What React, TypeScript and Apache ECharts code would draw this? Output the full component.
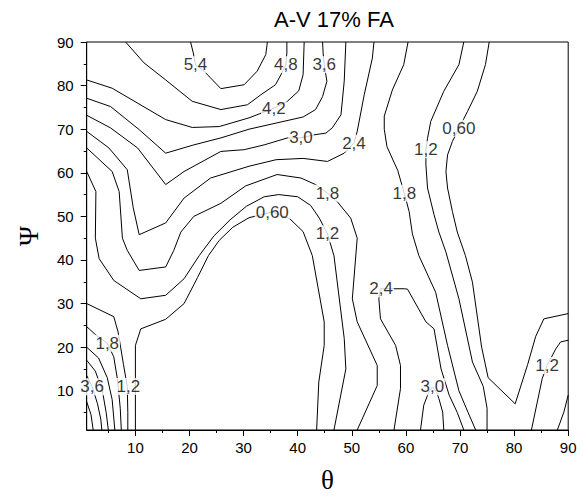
import React, { useEffect, useRef } from "react";
import * as echarts from "echarts";

// ---- axis ticks ----
const THETA_MAJOR = [10, 20, 30, 40, 50, 60, 70, 80, 90];
const THETA_MINOR = [5, 15, 25, 35, 45, 55, 65, 75, 85];
const PSI_MAJOR = [10, 20, 30, 40, 50, 60, 70, 80, 90];
const PSI_MINOR = [5, 15, 25, 35, 45, 55, 65, 75, 85];

// ---- contour lines: [theta, psi] ----
const level54 = [[20.2, 90], [20.7, 87.5], [21.1, 84.8], [22.7, 83.3], [25.8, 79.3], [30.1, 80.2], [32.5, 83.3], [34.1, 87.1], [34.4, 90]];
const level48 = [[8.2, 90], [11.6, 85.2], [15.6, 81.3], [20.5, 76.4], [25.8, 74.5], [30.7, 75.6], [33.2, 77.9], [35.9, 80.2], [36.9, 82.5], [37.8, 84.8], [38, 87.5], [38, 90]];
const level42 = [[1, 81.3], [5.7, 79.4], [15.6, 72.2], [20.5, 70.4], [25.5, 70.6], [31, 72.6], [35.6, 74.8], [38.1, 76.4], [40.2, 78.8], [41, 82.5], [41.2, 90]];
const level36 = [[1, 77.1], [5.4, 75.2], [10.7, 69.9], [15.6, 64.5], [20.8, 66.4], [25.8, 68], [31, 70], [36, 71.4], [41, 72.8], [43.3, 74.5], [44.6, 77.5], [45.4, 81], [44.9, 84.8], [44.7, 87.5], [44.6, 90]];
const level30 = [[1, 73.2], [5.4, 70.3], [10.4, 65.7], [15.6, 57.3], [19, 60.3], [25.8, 64.9], [30.1, 65.3], [33.8, 66.4], [38.1, 68], [40.6, 68], [43, 68.7], [45.2, 69.1], [46.4, 70.3], [48, 73.3], [48.6, 81], [48.9, 90]];
const level24 = [[1, 69.5], [5.1, 65.7], [8.5, 60.7], [9.6, 52], [10.7, 45.8], [15.6, 48.5], [19, 54.2], [23.9, 58.8], [31, 61.5], [36, 63], [41, 63.3], [45.5, 62.6], [48.6, 64.5], [50.4, 66.8], [51, 69.5], [52.3, 77.9], [53.8, 86.3], [54.1, 90]];
const level18 = [[1, 65.7], [5.7, 60.3], [7, 55.7], [7.6, 45], [8.5, 42.2], [10.7, 37.6], [15.6, 38.4], [17.1, 42.2], [18.4, 46.4], [20.8, 50], [25.8, 53], [30.4, 57], [36.2, 59.6], [40.6, 58.8], [43.3, 57.3], [45.5, 55.3], [47.3, 53.4], [49.8, 49.6], [51, 45], [50.1, 31.1], [51, 25.8], [54.7, 15.8], [54.7, 11.2], [51, 1]];
const level12 = [[1, 60.3], [2.7, 55.7], [2.6, 45], [3.3, 40.3], [6, 35.3], [11, 31.1], [15.6, 31.9], [19, 35.7], [21.8, 41], [24.5, 45.5], [27.5, 49.2], [30.5, 52.3], [33.8, 54.5], [36.5, 55], [40, 54.5], [42.4, 52.5], [44, 49.6], [45.5, 46], [46.7, 41], [48.6, 22], [48.9, 15], [46.7, 1]];
const level06 = [[10, 1], [10, 20.4], [11, 24.2], [15.6, 26.4], [19, 30], [21.5, 36], [23.5, 41], [25.5, 44.5], [28, 47.5], [31, 49.7], [35.3, 51], [38.5, 49.5], [41, 46.5], [42.7, 41], [44.9, 25.8], [44.9, 20.4], [43.9, 12], [43.5, 1]];

const level24Hump = [[57.8, 1], [59, 10.5], [59, 15.8], [58.1, 20.4], [55.3, 26.5], [55, 31.1], [55.3, 33.4], [57.8, 33.4], [59.7, 33.4], [60.3, 33.3], [63.7, 25.8], [65.2, 24.2], [66.5, 15], [68, 9], [69.5, 5], [70.7, 1]];
const level30Hump = [[62.7, 1], [63.3, 6.7], [64.2, 9.6], [64.9, 10.9], [65.7, 9.6], [66.1, 8.2], [66.8, 5.1], [67, 1]];
const level18Right = [[60.4, 90], [59.6, 84.8], [57.5, 79], [56, 73], [56, 70], [56.5, 66], [58.5, 60.5], [59.7, 55.3], [60.6, 51.1], [61.2, 46], [62.4, 41], [65.5, 32.6], [67.7, 20.4], [69.8, 10], [71.5, 5], [72.9, 1]];
const level12Right = [[70.7, 90], [69.8, 84.8], [67, 78.7], [64.6, 71.8], [64, 67.9], [63.7, 65.3], [63.7, 61.8], [64, 56.5], [65.2, 50.4], [66.1, 46.4], [67.4, 41.8], [69.8, 31.1], [72.3, 16.6], [74.3, 11], [75, 6], [75, 1]];
const level06Right = [[75.4, 90], [74.7, 84.8], [73.2, 78.7], [71.4, 74.1], [69.8, 70.2], [68.6, 67.2], [67.7, 64.1], [67.4, 60.3], [67.7, 56.5], [68.6, 51.1], [69.5, 46.4], [71, 41], [72.3, 34.9], [74, 20], [75.2, 13], [80.2, 7], [82.5, 16], [84, 22.5], [85.5, 26.5], [90, 27.7]];
const level12Corner = [[83.2, 1], [85.2, 12.8], [86.1, 15.8], [87.7, 19.6], [88.6, 21.2], [90, 21.6]];
const level18Corner = [[88, 1], [89.2, 5.1], [90, 9]];

const level12Left = [[1, 30], [6, 27], [6.8, 23.5], [7.8, 16], [8.5, 11], [8.6, 5], [8.6, 1]];
const level18Left = [[1, 24.7], [2.7, 22.8], [4.8, 20.9], [6, 17.8], [6.7, 12.5], [7.2, 6], [7.4, 1]];
const level24Left = [[1, 20], [3.2, 17.5], [4.8, 13], [5.7, 8], [6.2, 1]];
const level30Left = [[1, 17], [2.6, 14.5], [3.9, 10], [4.6, 5], [5, 1]];
const level36Left = [[1, 13.5], [2, 11], [3, 7], [3.6, 3.5], [3.8, 1]];
const level42Left = [[1, 7.5], [1.8, 4.5], [2.2, 1]];

const contourLines = [
  level54, level48, level42, level36, level30, level24, level18, level12, level06,
  level24Hump, level30Hump, level18Right, level12Right, level06Right, level12Corner, level18Corner,
  level12Left, level18Left, level24Left, level30Left, level36Left, level42Left,
];

// ---- contour labels ----
const labelTexts = ["5,4", "4,8", "3,6", "4,2", "3,0", "2,4", "1,2", "0,60", "1,8", "1,8", "0,60", "1,2", "2,4", "3,0", "1,2", "1,8", "3,6", "1,2"];
const labelThetas = [21.1, 37.8, 44.9, 35.6, 40.6, 50.4, 63.7, 69.8, 45.5, 59.7, 35.3, 45.5, 55.4, 64.9, 86.1, 4.8, 2.0, 8.7];
const labelPsis = [84.8, 84.8, 84.8, 74.8, 68, 66.8, 65.3, 70.2, 55.3, 55.3, 51, 46, 33.4, 10.9, 15.8, 20.9, 10.9, 11];

const TITLE = "A-V 17% FA";
const SANS = "'Liberation Sans', Arial, sans-serif";
const SERIF = "'Liberation Serif', 'Times New Roman', serif";

export default function App() {
  const ref = useRef<HTMLDivElement>(null);

  useEffect(() => {
    if (!ref.current) return;
    const chart = echarts.init(ref.current, null, { renderer: "svg" });

    const lineSeries = contourLines.map((pts) => ({
      type: "line",
      data: pts,
      xAxisIndex: 0,
      yAxisIndex: 0,
      showSymbol: false,
      symbol: "none",
      silent: true,
      lineStyle: { color: "#000", width: 1 },
      z: 2,
    }));

    const labelSeries = {
      type: "scatter",
      xAxisIndex: 0,
      yAxisIndex: 0,
      silent: true,
      symbol: "circle",
      symbolSize: 1,
      itemStyle: { color: "rgba(0,0,0,0)" },
      z: 5,
      data: labelTexts.map((t, i) => ({ name: t, value: [labelThetas[i], labelPsis[i]] })),
      label: {
        show: true,
        position: "inside",
        formatter: "{b}",
        color: "#000",
        fontSize: 17,
        fontFamily: SANS,
        backgroundColor: "#fff",
        padding: [0, 1],
      },
    };

    const baseAxis = {
      type: "value",
      min: 1,
      max: 90,
      splitLine: { show: false },
    };

    chart.setOption({
      animation: false,
      backgroundColor: "#fff",
      grid: {
        left: 86.7,
        right: 14.8,
        top: 42,
        bottom: 69,
        show: true,
        borderColor: "#000",
        borderWidth: 1,
        backgroundColor: "transparent",
        outerBoundsMode: "none",
        containLabel: false,
      },
      graphic: [
        {
          type: "text",
          x: 334,
          y: 19,
          style: {
            text: TITLE,
            font: `22px ${SANS}`,
            fill: "#000",
            textAlign: "center",
            textVerticalAlign: "middle",
          },
        },
      ],
      xAxis: [
        {
          ...baseAxis,
          position: "bottom",
          axisLine: { show: true, lineStyle: { color: "#000", width: 1 } },
          axisTick: { show: true, customValues: THETA_MAJOR, length: 6, inside: false, lineStyle: { color: "#000", width: 1 } },
          axisLabel: { show: true, customValues: THETA_MAJOR, color: "#000", fontSize: 15, fontFamily: SANS, margin: 10 },
          name: "θ",
          nameLocation: "middle",
          nameGap: 36,
          nameTextStyle: { fontFamily: SERIF, fontSize: 27, color: "#000" },
        },
        {
          ...baseAxis,
          position: "bottom",
          offset: 0,
          axisLine: { show: false },
          axisTick: { show: true, customValues: THETA_MINOR, length: 3, inside: false, lineStyle: { color: "#000", width: 1 } },
          axisLabel: { show: false },
        },
      ],
      yAxis: [
        {
          ...baseAxis,
          position: "left",
          axisLine: { show: true, lineStyle: { color: "#000", width: 1 } },
          axisTick: { show: true, customValues: PSI_MAJOR, length: 6, inside: false, lineStyle: { color: "#000", width: 1 } },
          axisLabel: { show: true, customValues: PSI_MAJOR, color: "#000", fontSize: 15, fontFamily: SANS, margin: 13 },
          name: "Ψ",
          nameLocation: "middle",
          nameGap: 44,
          nameTextStyle: { fontFamily: SERIF, fontSize: 27, color: "#000" },
        },
        {
          ...baseAxis,
          position: "left",
          offset: 0,
          axisLine: { show: false },
          axisTick: { show: true, customValues: PSI_MINOR, length: 3, inside: false, lineStyle: { color: "#000", width: 1 } },
          axisLabel: { show: false },
        },
      ],
      series: [...lineSeries, labelSeries],
    });

    return () => chart.dispose();
  }, []);

  return (
    <div
      ref={ref}
      style={{ position: "fixed", left: 0, top: 0, width: 583, height: 499, background: "#fff" }}
    />
  );
}
